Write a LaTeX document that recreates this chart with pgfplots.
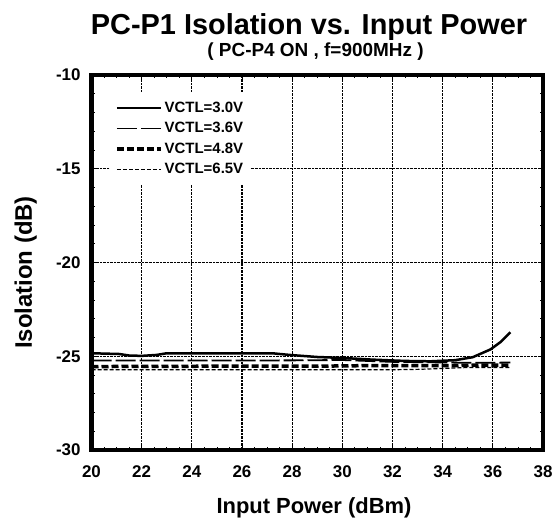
\documentclass[border=0pt]{standalone}
\usepackage{fontspec}
\setmainfont{Liberation Sans}
\usepackage{pgfplots}
\pgfplotsset{compat=1.18}
\begin{document}
\begin{tikzpicture}
\useasboundingbox (-91.5bp,-71bp) rectangle (464.5bp,450bp);
\begin{axis}[
  width=451.5bp, height=375bp, scale only axis,
  at={(0,0)}, anchor=south west,
  xmin=20, xmax=38, ymin=-30, ymax=-10,
  xtick={20,22,...,38}, ytick={-30,-25,-20,-15,-10},
  minor x tick num=3, minor y tick num=4,
  tick align=inside, major tick length=5bp, minor tick length=3bp,
  every tick/.style={black, line width=0.8bp},
  grid=major, major grid style={black, densely dotted, line width=1.3bp},
  axis line style={line width=4bp},
  /pgf/number format/assume math mode=true,
  ticklabel style={font=\bfseries\fontsize{17}{17}\selectfont},
  xticklabel style={yshift=-12bp},
  yticklabel style={xshift=-7.5bp},
  legend style={at={(0.041,0.955)}, anchor=north west, draw=none, fill=white,
    inner xsep=5bp, inner ysep=8bp, row sep=4.5bp,
    font=\bfseries\fontsize{15}{15}\selectfont, cells={anchor=west}},
  legend image code/.code={\draw[#1] (0bp,0bp) -- (44bp,0bp);},
]
\addplot[black, line width=2.5bp] coordinates {
 (20,-24.84) (21.1,-24.88) (21.5,-24.96) (22,-24.98) (22.6,-24.93) (23,-24.84)
 (25,-24.84) (27.2,-24.84) (27.9,-24.93) (29,-25.04) (30,-25.09) (31.2,-25.18)
 (32.5,-25.25) (33.5,-25.27) (34.5,-25.21) (35.2,-25.05) (35.9,-24.64)
 (36.3,-24.25) (36.7,-23.72)};
\addlegendentry{VCTL=3.0V}
\addplot[black, line width=1.8bp, dash pattern=on 20bp off 4bp] coordinates {
 (20,-25.23) (24,-25.23) (28,-25.22) (30,-25.2) (31,-25.25) (32,-25.3)
 (34,-25.33) (35,-25.35) (36,-25.35) (36.7,-25.33)};
\addlegendentry{VCTL=3.6V}
\addplot[black, line width=3.5bp, dash pattern=on 7bp off 3bp] coordinates {
 (20,-25.55) (25,-25.53) (29,-25.53) (31,-25.5) (33,-25.5) (34.5,-25.5)
 (35.5,-25.47) (36.7,-25.47)};
\addlegendentry{VCTL=4.8V}
\addplot[black, line width=1.2bp, dash pattern=on 4bp off 2bp] coordinates {
 (20,-25.72) (26,-25.72) (29,-25.72) (31,-25.72) (32,-25.72) (33,-25.7)
 (34,-25.65) (35,-25.6) (36.7,-25.6)};
\addlegendentry{VCTL=6.5V}
\end{axis}
\node[anchor=base, font=\bfseries\fontsize{29}{29}\selectfont] at (217.5bp,415bp) {PC-P1 Isolation vs. Input Power};
\node[anchor=base, font=\bfseries\fontsize{19}{19}\selectfont] at (224bp,393bp) {( PC-P4 ON , f=900MHz )};
\node[anchor=base, font=\bfseries\fontsize{22}{22}\selectfont] at (222.5bp,-63bp) {Input Power (dBm)};
\node[anchor=base, rotate=90, font=\bfseries\fontsize{24}{24}\selectfont] at (-59.5bp,177.5bp) {Isolation (dB)};
\end{tikzpicture}
\end{document}
